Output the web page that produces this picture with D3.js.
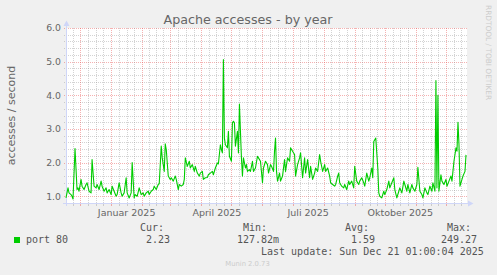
<!DOCTYPE html>
<html>
<head>
<meta charset="utf-8">
<script src="https://cdn.jsdelivr.net/npm/d3@7"></script>
<style>
html, body { margin: 0; padding: 0; background: #f0f0f0; }
svg { display: block; }
</style>
</head>
<body>
<script>
// daily averages
var dates = [
  "2024-11-17","2024-11-19","2024-11-20","2024-11-22","2024-11-23","2024-11-24","2024-11-26","2024-11-28","2024-11-29","2024-11-30",
  "2024-12-02","2024-12-03","2024-12-05","2024-12-07","2024-12-08","2024-12-10","2024-12-12","2024-12-13","2024-12-15","2024-12-17",
  "2024-12-18","2024-12-20","2024-12-22","2024-12-23","2024-12-25","2024-12-27","2024-12-28","2024-12-30","2025-01-01","2025-01-02",
  "2025-01-04","2025-01-06","2025-01-07","2025-01-09","2025-01-11","2025-01-12","2025-01-14","2025-01-16","2025-01-17","2025-01-19",
  "2025-01-21","2025-01-22","2025-01-24","2025-01-25","2025-01-27","2025-01-29","2025-01-31","2025-02-02","2025-02-03","2025-02-05",
  "2025-02-07","2025-02-08","2025-02-10","2025-02-12","2025-02-13","2025-02-15","2025-02-17","2025-02-18","2025-02-20","2025-02-21",
  "2025-02-23","2025-02-24","2025-02-25","2025-02-27","2025-03-01","2025-03-02","2025-03-04","2025-03-06","2025-03-07","2025-03-09",
  "2025-03-10","2025-03-12","2025-03-14","2025-03-15","2025-03-16","2025-03-18","2025-03-20","2025-03-21","2025-03-23","2025-03-25",
  "2025-03-26","2025-03-28","2025-03-30","2025-03-31","2025-04-02","2025-04-03","2025-04-05","2025-04-07","2025-04-08","2025-04-10",
  "2025-04-12","2025-04-13","2025-04-15","2025-04-17","2025-04-18","2025-04-20","2025-04-21","2025-04-22","2025-04-23","2025-04-24",
  "2025-04-25","2025-04-27","2025-04-28","2025-04-29","2025-05-01","2025-05-02","2025-05-03","2025-05-04","2025-05-05","2025-05-07",
  "2025-05-08","2025-05-09","2025-05-10","2025-05-11","2025-05-12","2025-05-13","2025-05-15","2025-05-16","2025-05-17","2025-05-19",
  "2025-05-20","2025-05-22","2025-05-23","2025-05-25","2025-05-27","2025-05-28","2025-05-30","2025-06-01","2025-06-02","2025-06-04",
  "2025-06-06","2025-06-07","2025-06-09","2025-06-10","2025-06-12","2025-06-13","2025-06-14","2025-06-15","2025-06-16","2025-06-18",
  "2025-06-19","2025-06-21","2025-06-23","2025-06-24","2025-06-26","2025-06-28","2025-06-29","2025-07-01","2025-07-03","2025-07-04",
  "2025-07-06","2025-07-08","2025-07-09","2025-07-11","2025-07-13","2025-07-14","2025-07-16","2025-07-18","2025-07-19","2025-07-21",
  "2025-07-23","2025-07-24","2025-07-26","2025-07-28","2025-07-29","2025-07-31","2025-08-02","2025-08-03","2025-08-05","2025-08-07",
  "2025-08-08","2025-08-10","2025-08-12","2025-08-13","2025-08-15","2025-08-16","2025-08-17","2025-08-19","2025-08-21","2025-08-22",
  "2025-08-24","2025-08-26","2025-08-27","2025-08-29","2025-08-31","2025-09-01","2025-09-03","2025-09-05","2025-09-06","2025-09-08",
  "2025-09-10","2025-09-11","2025-09-13","2025-09-15","2025-09-16","2025-09-18","2025-09-19","2025-09-20","2025-09-22","2025-09-24",
  "2025-09-25","2025-09-26","2025-09-28","2025-09-30","2025-10-01","2025-10-03","2025-10-05","2025-10-06","2025-10-08","2025-10-10",
  "2025-10-11","2025-10-13","2025-10-15","2025-10-16","2025-10-18","2025-10-20","2025-10-21","2025-10-23","2025-10-24","2025-10-26",
  "2025-10-28","2025-10-29","2025-10-31","2025-11-02","2025-11-03","2025-11-05","2025-11-07","2025-11-08","2025-11-10","2025-11-12",
  "2025-11-13","2025-11-15","2025-11-17","2025-11-18","2025-11-20","2025-11-21","2025-11-22","2025-11-23","2025-11-24","2025-11-26",
  "2025-11-27","2025-11-29","2025-12-01","2025-12-02","2025-12-04","2025-12-06","2025-12-07","2025-12-09","2025-12-11","2025-12-12",
  "2025-12-13","2025-12-14","2025-12-15","2025-12-17","2025-12-18","2025-12-20","2025-12-21"
];
var accesses = [
  0.95,1.25,1.1,1.05,1.0,0.92,2.42,1.2,1.25,1.15,
  1.5,1.3,1.2,1.35,1.4,1.15,1.1,2.09,1.3,1.25,
  1.35,1.2,1.45,1.3,1.15,1.25,1.1,1.2,1.05,1.3,
  1.15,1.0,1.05,1.4,1.1,1.0,1.1,1.55,1.1,0.95,
  1.1,2.0,0.95,1.05,1.0,1.25,1.05,1.1,1.0,1.1,
  1.15,1.05,1.15,1.2,1.3,1.2,1.35,1.37,2.49,2.14,
  1.74,2.56,2.39,1.6,1.5,1.55,1.45,1.6,1.5,1.2,
  1.35,1.3,1.35,1.5,2.14,1.89,2.04,1.84,1.94,1.74,
  1.89,1.69,1.6,1.69,1.74,1.5,1.55,1.56,1.64,1.69,
  1.74,1.64,1.84,1.99,1.96,2.53,2.39,2.29,5.06,2.73,
  2.53,2.44,2.93,2.19,2.04,3.18,3.23,3.18,2.49,2.93,
  2.29,3.74,2.93,2.14,1.6,2.14,1.84,1.94,1.74,1.79,
  1.74,2.04,1.74,1.84,2.19,2.14,2.04,1.4,1.84,2.04,
  1.94,1.69,1.94,1.89,1.74,2.34,2.73,1.74,1.45,1.69,
  1.45,1.6,2.09,1.74,2.14,2.04,2.44,2.34,2.24,1.6,
  1.94,2.14,2.29,1.55,2.14,1.69,2.09,1.55,1.89,1.5,
  1.69,1.84,1.74,2.24,2.04,1.74,1.94,1.74,1.84,1.6,
  1.4,1.35,1.3,1.35,1.6,1.69,1.4,1.3,1.25,1.35,
  1.2,1.45,1.35,1.45,1.25,1.89,1.45,1.35,1.45,1.55,
  1.4,1.3,1.69,1.45,1.55,1.84,1.55,2.63,2.73,1.84,
  1.1,1.0,0.95,1.15,1.05,1.2,1.45,1.25,1.4,1.55,
  1.2,0.95,1.15,1.25,1.1,1.45,1.35,1.15,1.35,1.1,
  1.35,1.25,1.15,1.35,1.86,1.15,1.05,0.95,1.25,1.1,
  1.05,1.3,1.15,1.4,1.15,4.44,1.25,4.0,1.15,1.64,
  1.45,1.35,1.5,1.3,1.45,1.6,1.45,2.04,2.44,2.34,
  3.2,2.53,1.3,1.5,1.6,1.74,2.23
];

var yTicks = [1, 2, 3, 4, 5, 6];
var monthLabels = ["Januar 2025", "April 2025", "Juli 2025", "Oktober 2025"];
var monthLabelDates = ["2025-01-16", "2025-04-16", "2025-07-16", "2025-10-16"];
var legendHeads = ["Cur:", "Min:", "Avg:", "Max:"];
var legendValues = ["2.23", "127.82m", "1.59", "249.27"];

var W = 497, H = 275;
var parseDay = d3.timeParse("%Y-%m-%d");
var series = dates.map(function(d, i) { return {date: parseDay(d), value: accesses[i]}; });

var x = d3.scaleTime()
    .domain([parseDay("2024-11-17"), parseDay("2025-12-22")])
    .range([66, 467]);
var y = d3.scaleLinear()
    .domain([0.8, 6.0])
    .range([203, 28]);

var svg = d3.select("body").append("svg")
    .attr("width", W)
    .attr("height", H);

svg.append("rect")
    .attr("width", W).attr("height", H)
    .attr("fill", "#f0f0f0");

// canvas
svg.append("rect")
    .attr("x", 66).attr("y", 28)
    .attr("width", 401).attr("height", 175)
    .attr("fill", "#ffffff");

var minorCol = "rgba(140,140,140,0.38)";
var majorCol = "rgba(230,70,70,0.42)";
function px(v) { return Math.round(v) + 0.5; }

// horizontal grid
var hLines = y.ticks(26).filter(function(v) { return v > 0.81; });
svg.append("g").selectAll("line")
    .data(hLines).enter().append("line")
    .attr("x1", 64).attr("x2", 467)
    .attr("y1", function(d) { return px(y(d)); })
    .attr("y2", function(d) { return px(y(d)); })
    .attr("stroke", function(d) { return Math.abs(d - Math.round(d)) < 1e-6 ? majorCol : minorCol; })
    .attr("stroke-dasharray", "1,1");

// vertical grid: months (major), quarter months (minor)
var t0 = x.domain()[0], t1 = x.domain()[1];
var months = d3.timeMonth.range(d3.timeMonth.floor(t0), t1);
var minors = [];
months.forEach(function(m) {
  var next = d3.timeMonth.offset(m, 1);
  [1, 2, 3].forEach(function(k) {
    var t = new Date(+m + (next - m) * k / 4);
    if (t > t0 && t < t1) minors.push(t);
  });
});
var majors = months.filter(function(m) { return m > t0; });

svg.append("g").selectAll("line")
    .data(minors).enter().append("line")
    .attr("x1", function(d) { return px(x(d)); })
    .attr("x2", function(d) { return px(x(d)); })
    .attr("y1", 28).attr("y2", 203)
    .attr("stroke", minorCol)
    .attr("stroke-dasharray", "1,1");
svg.append("g").selectAll("line")
    .data(minors).enter().append("line")
    .attr("x1", function(d) { return px(x(d)); })
    .attr("x2", function(d) { return px(x(d)); })
    .attr("y1", 203).attr("y2", 206)
    .attr("stroke", minorCol);

svg.append("g").selectAll("line")
    .data(majors).enter().append("line")
    .attr("x1", function(d) { return px(x(d)); })
    .attr("x2", function(d) { return px(x(d)); })
    .attr("y1", 28).attr("y2", 203)
    .attr("stroke", majorCol)
    .attr("stroke-dasharray", "1,1");
svg.append("g").selectAll("line")
    .data(majors).enter().append("line")
    .attr("x1", function(d) { return px(x(d)); })
    .attr("x2", function(d) { return px(x(d)); })
    .attr("y1", 203).attr("y2", 206)
    .attr("stroke", majorCol);

// axes with arrows
var axisCol = "#cfd6f8";
svg.append("line")
    .attr("x1", 63).attr("x2", 469)
    .attr("y1", 203.5).attr("y2", 203.5)
    .attr("stroke", axisCol);
svg.append("line")
    .attr("x1", 66.5).attr("x2", 66.5)
    .attr("y1", 206).attr("y2", 25)
    .attr("stroke", axisCol);
svg.append("path")
    .attr("d", "M468,200.5L473.5,203.5L468,206.5Z")
    .attr("fill", axisCol);
svg.append("path")
    .attr("d", "M63.5,26L66.5,20.5L69.5,26Z")
    .attr("fill", axisCol);

// data line
var line = d3.line()
    .x(function(d) { return x(d.date); })
    .y(function(d) { return y(d.value); });
svg.append("path")
    .datum(series)
    .attr("d", line)
    .attr("fill", "none")
    .attr("stroke", "#00cc00")
    .attr("stroke-width", 1.1)
    .attr("stroke-linejoin", "round");

var sans = "'DejaVu Sans', sans-serif";
var mono = "'DejaVu Sans Mono', monospace";
var fontCol = "#666666";

// y tick labels
svg.append("g").selectAll("text")
    .data(yTicks).enter().append("text")
    .attr("x", 61)
    .attr("y", function(d) { return y(d) + 3.4; })
    .attr("text-anchor", "end")
    .attr("font-family", sans)
    .attr("font-size", 9.3)
    .attr("fill", fontCol)
    .text(function(d) { return d3.format(".1f")(d); });

// x month labels
svg.append("g").selectAll("text")
    .data(monthLabels).enter().append("text")
    .attr("x", function(d, i) { return x(d3.timeHour.offset(parseDay(monthLabelDates[i]), 12)); })
    .attr("y", 215.5)
    .attr("text-anchor", "middle")
    .attr("font-family", sans)
    .attr("font-size", 9.5)
    .attr("fill", fontCol)
    .text(function(d) { return d; });

// title
svg.append("text")
    .attr("x", 248).attr("y", 24)
    .attr("text-anchor", "middle")
    .attr("font-family", sans)
    .attr("font-size", 12.7)
    .attr("fill", fontCol)
    .text("Apache accesses - by year");

// vertical axis title
svg.append("text")
    .attr("transform", "translate(14.5,115.5) rotate(-90)")
    .attr("text-anchor", "middle")
    .attr("font-family", sans)
    .attr("font-size", 11)
    .attr("fill", fontCol)
    .text("accesses / second");

// watermark
svg.append("text")
    .attr("transform", "translate(485.5,5) rotate(90)")
    .attr("font-family", sans)
    .attr("font-size", 7.4)
    .attr("fill", "#cccccc")
    .text("RRDTOOL / TOBI OETIKER");

// legend
var headX = [140, 243, 345, 447];
var valX = [146, 237, 351, 441];
svg.append("g").selectAll("text")
    .data(legendHeads).enter().append("text")
    .attr("x", function(d, i) { return headX[i]; })
    .attr("y", 231)
    .attr("font-family", mono)
    .attr("font-size", 10)
    .attr("fill", "#555555")
    .text(function(d) { return d; });
svg.append("g").selectAll("text")
    .data(legendValues).enter().append("text")
    .attr("x", function(d, i) { return valX[i]; })
    .attr("y", 243)
    .attr("font-family", mono)
    .attr("font-size", 10)
    .attr("fill", "#555555")
    .text(function(d) { return d; });

svg.append("rect")
    .attr("x", 14).attr("y", 237)
    .attr("width", 6).attr("height", 6)
    .attr("fill", "#00cc00");
svg.append("text")
    .attr("x", 26).attr("y", 243)
    .attr("font-family", mono)
    .attr("font-size", 10)
    .attr("fill", "#555555")
    .text("port 80");

svg.append("text")
    .attr("x", 261).attr("y", 255)
    .attr("font-family", mono)
    .attr("font-size", 10)
    .attr("fill", "#555555")
    .text("Last update: Sun Dec 21 01:00:04 2025");

svg.append("text")
    .attr("x", 247.5).attr("y", 266)
    .attr("text-anchor", "middle")
    .attr("font-family", sans)
    .attr("font-size", 6.8)
    .attr("fill", "#cccccc")
    .text("Munin 2.0.73");
</script>
</body>
</html>
